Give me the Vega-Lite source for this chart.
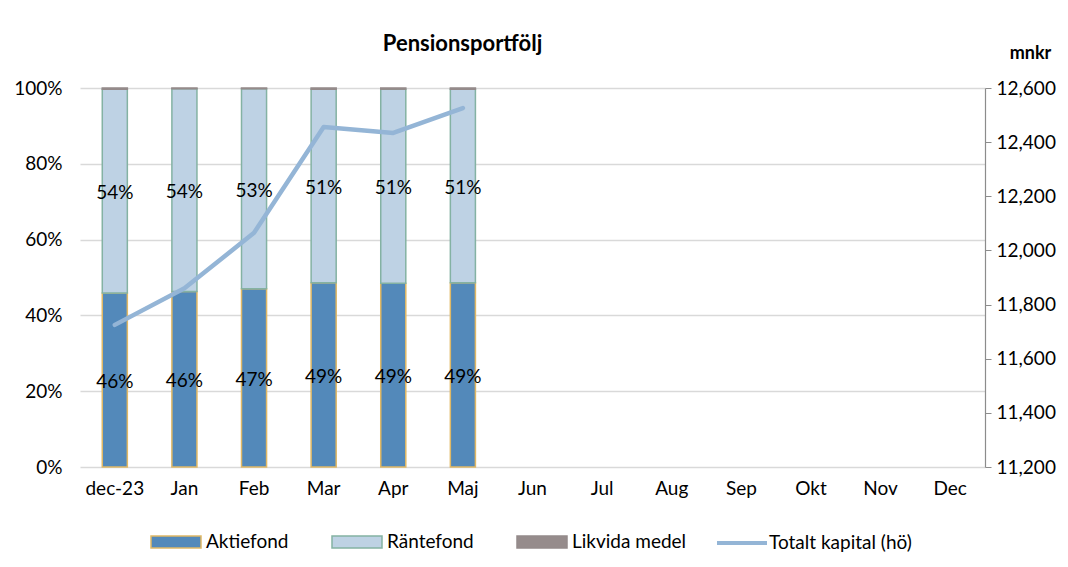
{
  "$schema": "https://vega.github.io/schema/vega-lite/v6.json",
  "autosize": "none",
  "width": 905,
  "height": 379,
  "padding": {"left": 80, "top": 88, "right": 83, "bottom": 100},
  "background": "white",
  "config": {
    "font": "Lato",
    "view": {"stroke": null},
    "axis": {"labelFontSize": 19, "labelColor": "#000000", "labelFont": "Lato"},
    "legend": {"labelFontSize": 19, "labelColor": "#000000", "labelFont": "Lato"}
  },
  "title": {
    "text": "Pensionsportfölj",
    "fontSize": 22,
    "fontWeight": "bold",
    "color": "#000000",
    "anchor": "middle",
    "dx": -70,
    "offset": -12
  },
  "datasets": {
    "pct": [
      {"m": "dec-23", "serie": "Aktiefond", "v": 0.459},
      {"m": "dec-23", "serie": "Räntefond", "v": 0.538},
      {"m": "dec-23", "serie": "Likvida medel", "v": 0.003},
      {"m": "Jan", "serie": "Aktiefond", "v": 0.463},
      {"m": "Jan", "serie": "Räntefond", "v": 0.535},
      {"m": "Jan", "serie": "Likvida medel", "v": 0.002},
      {"m": "Feb", "serie": "Aktiefond", "v": 0.470},
      {"m": "Feb", "serie": "Räntefond", "v": 0.528},
      {"m": "Feb", "serie": "Likvida medel", "v": 0.002},
      {"m": "Mar", "serie": "Aktiefond", "v": 0.486},
      {"m": "Mar", "serie": "Räntefond", "v": 0.511},
      {"m": "Mar", "serie": "Likvida medel", "v": 0.003},
      {"m": "Apr", "serie": "Aktiefond", "v": 0.485},
      {"m": "Apr", "serie": "Räntefond", "v": 0.512},
      {"m": "Apr", "serie": "Likvida medel", "v": 0.003},
      {"m": "Maj", "serie": "Aktiefond", "v": 0.486},
      {"m": "Maj", "serie": "Räntefond", "v": 0.511},
      {"m": "Maj", "serie": "Likvida medel", "v": 0.003}
    ],
    "tot": [
      {"m": "dec-23", "kapital": 11725},
      {"m": "Jan", "kapital": 11860},
      {"m": "Feb", "kapital": 12065},
      {"m": "Mar", "kapital": 12456},
      {"m": "Apr", "kapital": 12434},
      {"m": "Maj", "kapital": 12526}
    ]
  },
  "layer": [
    {
      "data": {"name": "pct"},
      "transform": [
        {"calculate": "indexof(['Aktiefond','Räntefond','Likvida medel'], datum.serie)", "as": "ordn"},
        {"stack": "v", "groupby": ["m"], "sort": [{"field": "ordn", "order": "ascending"}], "as": ["v0", "v1"]},
        {"calculate": "(datum.v0 + datum.v1) / 2", "as": "mid"}
      ],
      "layer": [
        {
          "mark": {"type": "bar", "strokeWidth": 1.5},
          "encoding": {
            "x": {
              "field": "m", "type": "nominal",
              "scale": {"domain": ["dec-23","Jan","Feb","Mar","Apr","Maj","Jun","Jul","Aug","Sep","Okt","Nov","Dec"], "paddingInner": 0.64, "paddingOuter": 0.32},
              "axis": {"title": null, "labelAngle": 0, "domain": false, "ticks": false, "labelPadding": 12, "grid": false}
            },
            "y": {
              "field": "v0", "type": "quantitative",
              "scale": {"domain": [0, 1]},
              "axis": {"orient": "left", "title": null, "format": ".0%", "values": [0, 0.2, 0.4, 0.6, 0.8, 1], "domain": false, "ticks": false, "labelPadding": 18, "grid": true, "gridColor": "#D9D9D9", "gridWidth": 1.5}
            },
            "y2": {"field": "v1"},
            "fill": {
              "field": "serie", "type": "nominal",
              "scale": {"domain": ["Aktiefond", "Räntefond", "Likvida medel"], "range": ["#5389BA", "#BED2E4", "#968C8C"]},
              "legend": {"title": null, "orient": "none", "direction": "horizontal", "legendX": 70, "legendY": 428, "symbolType": "M-1,-0.24H1V0.24H-1Z", "symbolSize": 2500, "symbolStrokeWidth": 1.5, "labelOffset": 4, "columnPadding": 40, "padding": 0}
            },
            "stroke": {
              "field": "serie", "type": "nominal",
              "scale": {"domain": ["Aktiefond", "Räntefond", "Likvida medel"], "range": ["#E0B865", "#84B2A3", "#948A8A"]},
              "legend": {"title": null, "orient": "none", "direction": "horizontal", "legendX": 70, "legendY": 428, "symbolType": "M-1,-0.24H1V0.24H-1Z", "symbolSize": 2500, "symbolStrokeWidth": 1.5, "labelOffset": 4, "columnPadding": 40, "padding": 0}
            }
          }
        },
        {
          "transform": [{"filter": "datum.serie !== 'Likvida medel'"}],
          "mark": {"type": "text", "fontSize": 19, "color": "#000000", "align": "center", "baseline": "middle", "dy": 2},
          "encoding": {
            "x": {"field": "m", "type": "nominal"},
            "y": {"field": "mid", "type": "quantitative"},
            "text": {"field": "v", "type": "quantitative", "format": ".0%"}
          }
        }
      ]
    },
    {
      "data": {"name": "tot"},
      "mark": {"type": "line", "strokeWidth": 4.5, "strokeCap": "round", "strokeJoin": "round"},
      "encoding": {
        "x": {"field": "m", "type": "nominal"},
        "y": {
          "field": "kapital", "type": "quantitative",
          "scale": {"domain": [11200, 12600], "zero": false, "nice": false},
          "axis": {"orient": "right", "format": ",.0f", "values": [11200, 11400, 11600, 11800, 12000, 12200, 12400, 12600], "grid": false, "domain": true, "domainColor": "#8C8C8C", "domainWidth": 1.2, "ticks": true, "tickSize": 6, "tickColor": "#8C8C8C", "labelPadding": 5,
            "title": "mnkr", "titleAngle": 0, "titleX": 45, "titleY": -35, "titleAlign": "center", "titleBaseline": "middle", "titleFontSize": 18, "titleFontWeight": "bold", "titleColor": "#000000"}
        },
        "color": {
          "datum": "Totalt kapital (hö)", "type": "nominal",
          "scale": {"range": ["#94B5D6"]},
          "legend": {"title": null, "orient": "none", "direction": "horizontal", "legendX": 635, "legendY": 428, "symbolType": "stroke", "symbolSize": 2500, "symbolStrokeWidth": 4, "labelOffset": 0, "padding": 0}
        }
      }
    }
  ],
  "resolve": {"scale": {"y": "independent"}}
}
